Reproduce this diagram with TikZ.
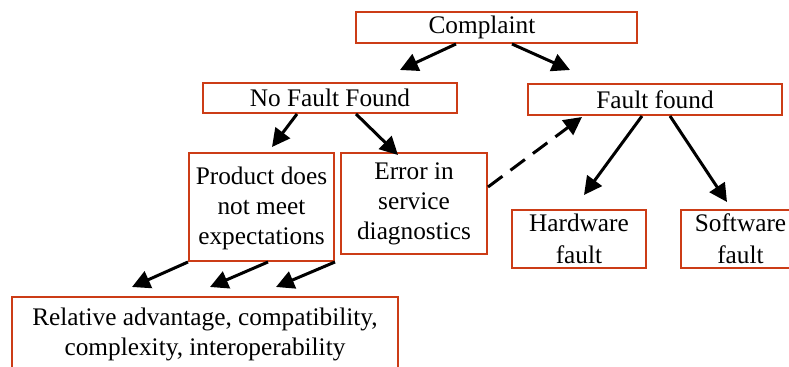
\documentclass[tikz,border=0pt]{standalone}
\usepackage{fontspec}
\setmainfont{Liberation Serif}
\usetikzlibrary{arrows.meta,calc}
\definecolor{boxred}{RGB}{204,60,22}
\tikzset{
  box/.style={draw=boxred, line width=1pt, rectangle, inner sep=0pt},
  txt/.style={inner sep=0pt, align=center, font=\fontsize{12.65}{15}\selectfont},
  arr/.style={line width=1.5pt, -{Triangle[length=9pt,width=9pt]}},
  darr/.style={arr, dash pattern=on 9pt off 5pt}
}
\begin{document}
\begin{tikzpicture}[x=0.5pt,y=-0.5pt]
\useasboundingbox (0,0) rectangle (789,367);
\clip (0,0) rectangle (789,367);

% boxes
\node[box, minimum width=140.5pt, minimum height=15.5pt] (cmp) at (496.5,27.5) {};
\node[txt] (cmpT) at (482,27.5) {Complaint};
\node[box, txt, minimum width=127pt, minimum height=15pt] (nff) at (330,98) {No Fault Found};
\node[box, txt, minimum width=127pt, minimum height=15.5pt] (ff) at (655,99.5) {Fault found};
\node[box, minimum width=72.5pt, minimum height=54pt] (prod) at (261.5,207) {};
\node[txt] (prodT) at (261.5,208) {Product does\\not meet\\expectations};
\node[box, minimum width=73pt, minimum height=50.5pt] (err) at (414,203.5) {};
\node[txt] (errT) at (414,204) {Error in\\service\\diagnostics};
\node[box, minimum width=67pt, minimum height=29pt] (hw) at (579,239) {};
\node[txt] (hwT) at (579,239) {Hardware\\[1pt]fault};
\node[box, minimum width=59.5pt, minimum height=29pt] (sw) at (740.5,239) {};
\node[txt] (swT) at (740.5,239) {Software\\[1pt]fault};
\node[box, minimum width=193pt, minimum height=45pt] (rel) at (205,342) {};
\node[txt] (relT) at (205,334) {Relative advantage, compatibility,\\complexity, interoperability};

% free ends of the arrows
\coordinate (t1) at (400,70);
\coordinate (t2) at (570,70);
\coordinate (t3) at (272,147);
\coordinate (t4) at (398,155);
\coordinate (t5) at (132,287);
\coordinate (t6) at (210,287);
\coordinate (t7) at (276,287);
\coordinate (t8) at (582,117);
\coordinate (t9) at (584,195);
\coordinate (t10) at (727,202);

% connectors
\draw[arr] ($(cmp.south west)+(101,0)$) -- (t1);
\draw[arr] ($(cmp.south west)+(157,0)$) -- (t2);
\draw[arr] ($(nff.south west)+(95,0)$) -- (t3);
\draw[arr] ($(nff.south west)+(154,0)$) -- (t4);
\draw[arr] (prod.south west) -- (t5);
\draw[arr] ($(prod.south west)+(80,0)$) -- (t6);
\draw[arr] (prod.south east) -- (t7);
\draw[darr] ($(err.north east)+(0,35)$) -- (t8);
\draw[arr] ($(ff.south west)+(115,0)$) -- (t9);
\draw[arr] ($(ff.south west)+(143,0)$) -- (t10);
\end{tikzpicture}
\end{document}
